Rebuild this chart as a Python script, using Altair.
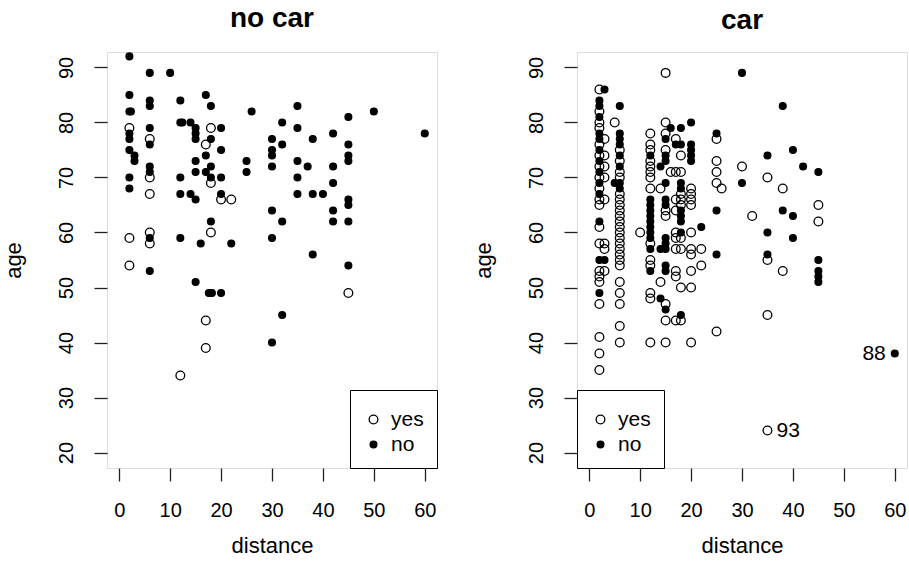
import altair as alt
import pandas as pd

FONT = "Liberation Sans"

# ---------------- panel "no car" ----------------
nocar_yes_dist = [2, 6, 6, 6, 18, 17, 18, 20, 22, 18, 2, 6, 6, 2, 45, 17, 17, 12]
nocar_yes_age = [79, 77, 70, 67, 79, 76, 69, 66, 66, 60, 59, 60, 58, 54, 49, 44, 39, 34]

nocar_no_dist = [2, 6, 10, 2, 6, 6, 12, 17, 18, 26, 2, 2.3, 2, 2, 2, 3, 3, 6, 6, 6, 6, 2, 2,
                 12, 12.4, 14, 15, 15, 15, 20, 18, 20, 17, 15, 15, 18, 17, 18, 20, 12, 12, 14,
                 15, 20, 25, 25, 30, 30, 30, 30, 30, 32, 18, 12, 35, 32, 35, 45, 50, 60, 32,
                 38, 42, 45, 45, 45, 35, 37, 42, 35, 42, 35, 38, 40, 45, 45, 42, 30, 42, 45,
                 6, 16, 22, 38, 45, 6, 15, 17.6, 18.2, 20, 32, 30]
nocar_no_age = [92, 89, 89, 85, 84, 83, 84, 85, 83, 82, 82, 82, 78, 77, 75, 74, 73, 79, 76, 72, 71, 70, 68,
                80, 80, 80, 79, 78, 77, 79, 77, 75, 74, 73, 71, 72, 71, 70, 70, 70, 67, 67,
                66, 67, 73, 71, 77, 75, 74, 72, 64, 62, 62, 59, 83, 80, 79, 81, 82, 78, 76,
                77, 78, 76, 74, 73, 73, 72, 72, 70, 69, 67, 67, 67, 66, 65, 64, 59, 62, 62,
                59, 58, 58, 56, 54, 53, 51, 49, 49, 49, 45, 40]

# ---------------- panel "car" (ages grouped by distance) ----------------
car_yes_dist = [2, 3, 5, 6, 10, 12, 14, 15, 16, 17, 18, 20, 22, 25, 26, 30, 32, 35, 38, 45]
car_yes_ages = [
    [86, 82, 80, 79, 76, 74, 72, 70, 68, 66, 65, 61, 58, 53, 52, 51, 47, 41, 38, 35],
    [77, 74, 72, 70, 66, 58, 57, 53],
    [80],
    [75, 73, 71, 70, 67, 66, 65, 64, 63, 62, 61, 60, 59, 58, 57, 56, 55, 54, 51, 49, 47, 43, 40],
    [60],
    [78, 76, 75, 73, 72, 71, 70, 68, 58, 55, 54, 49, 48, 40],
    [68, 51],
    [89, 80, 78, 75, 64, 63, 47, 44, 40],
    [71],
    [77, 71, 66, 64, 60, 59, 57, 53, 52, 44],
    [74, 71, 67, 66, 65, 59, 57, 50, 44],
    [68, 67, 66, 65, 60, 57, 56, 53, 50, 40],
    [57, 54],
    [77, 73, 71, 69, 42],
    [68],
    [72],
    [63],
    [70, 55, 45, 24],
    [68, 53],
    [65, 62],
]
car_no_dist = [2, 3, 5, 6, 12, 14, 15, 16, 17, 18, 20, 22, 25, 30, 35, 38, 40, 42, 45, 60]
car_no_ages = [
    [84, 83, 81, 78, 77, 75, 73, 71, 69, 67, 62, 55, 49],
    [86, 55],
    [69],
    [83, 78, 77, 76, 74, 72, 69, 68],
    [74, 66, 65, 64, 63, 62, 61, 60, 59, 57, 53],
    [72, 57, 48],
    [77, 74, 73, 69, 66, 65, 59, 58, 57, 54, 53, 46],
    [79],
    [76],
    [79, 76, 69, 68, 64, 63, 62, 60, 45],
    [80, 76, 75, 74, 73],
    [61],
    [78, 64, 56],
    [89, 69],
    [74, 60, 56],
    [83, 64],
    [75, 63, 59],
    [72],
    [71, 55, 53, 52, 51],
    [38],
]

# labelled points in the "car" panel
label_dist = [60, 35]
label_age = [38, 24]
label_text = ["88", "93"]
label_side = ["left", "right"]

x_ticks = [0, 10, 20, 30, 40, 50, 60]
y_ticks = [20, 30, 40, 50, 60, 70, 80, 90]


def flat_df(dy, ay, dn, an):
    rows = [{"distance": d, "age": a, "status": "yes"} for d, a in zip(dy, ay)]
    rows += [{"distance": d, "age": a, "status": "no"} for d, a in zip(dn, an)]
    return pd.DataFrame(rows)


def grouped(dists, ages):
    d_out, a_out = [], []
    for d, group in zip(dists, ages):
        for a in group:
            d_out.append(d)
            a_out.append(a)
    return d_out, a_out


df_nocar = flat_df(nocar_yes_dist, nocar_yes_age, nocar_no_dist, nocar_no_age)
cyd, cya = grouped(car_yes_dist, car_yes_ages)
cnd, cna = grouped(car_no_dist, car_no_ages)
df_car = flat_df(cyd, cya, cnd, cna)
df_lab = pd.DataFrame({"distance": label_dist, "age": label_age,
                       "text": label_text, "side": label_side})

xscale = alt.Scale(domain=[-2.4, 62.4], nice=False, zero=False)
yscale = alt.Scale(domain=[17.2, 92.8], nice=False, zero=False)

xaxis = alt.Axis(values=x_ticks, title="distance", labelFontSize=20, titleFontSize=22,
                 labelPadding=19, titlePadding=15, grid=False, domain=False,
                 tickSize=13, tickWidth=1.3, tickColor="#222", labelColor="black",
                 titleColor="black",
                 labelFont=FONT, titleFont=FONT, titleFontWeight="normal", labelFlush=False)
yaxis = alt.Axis(values=y_ticks, title="age", labelFontSize=20, titleFontSize=22,
                 labelAngle=-90, labelAlign="center", labelBaseline="bottom",
                 labelPadding=18, titlePadding=31, grid=False, domain=False,
                 tickSize=13, tickWidth=1.3, tickColor="#222", labelColor="black",
                 titleColor="black",
                 labelFont=FONT, titleFont=FONT, titleFontWeight="normal", labelFlush=False)


def panel(df, title, orient, with_labels=False):
    legend = alt.Legend(title=" ", titleFontSize=4, titlePadding=2, orient=orient, offset=0,
                        strokeColor="black",
                        fillColor="white", padding=13, labelFontSize=21, labelFont=FONT,
                        labelColor="black", labelOffset=7, rowPadding=3,
                        symbolStrokeWidth=1.3, cornerRadius=0)
    pts = alt.Chart(df).mark_point(shape="circle", filled=True,
                                   strokeWidth=1.3, opacity=1).encode(
        x=alt.X("distance:Q", scale=xscale, axis=xaxis),
        y=alt.Y("age:Q", scale=yscale, axis=yaxis),
        fill=alt.Fill("status:N",
                      scale=alt.Scale(domain=["yes", "no"], range=["rgba(0,0,0,0)", "black"]),
                      legend=legend),
        stroke=alt.Stroke("status:N",
                          scale=alt.Scale(domain=["yes", "no"], range=["black", "black"]),
                          legend=legend),
        size=alt.Size("status:N", scale=alt.Scale(domain=["yes", "no"], range=[76, 46]),
                      legend=legend),
    )
    layers = [pts]
    if with_labels:
        for side, align, dx in [("left", "right", -9), ("right", "left", 9)]:
            layers.append(
                alt.Chart(df_lab).transform_filter(alt.datum.side == side)
                .mark_text(align=align, baseline="middle", dx=dx, fontSize=21,
                           font=FONT, color="black")
                .encode(x=alt.X("distance:Q", scale=xscale),
                        y=alt.Y("age:Q", scale=yscale),
                        text="text:N")
            )
    return alt.layer(*layers).properties(
        width=330, height=416,
        title=alt.TitleParams(title, fontSize=28, fontWeight="bold", font=FONT,
                              color="black", anchor="middle", offset=17),
    )


left = panel(df_nocar, "no car", "bottom-right")
right = panel(df_car, "car", "bottom-left", with_labels=True)

chart = alt.hconcat(left, right, spacing=33).resolve_scale(
    fill="independent", size="independent", stroke="independent"
).resolve_legend(
    fill="independent", size="independent", stroke="independent"
).properties(
    padding={"left": 1, "top": 4, "right": 0, "bottom": 0},
).configure_view(
    stroke="#222", strokeWidth=1.8
).configure(background="white")

chart.save("out.html", embed_options={"renderer": "svg", "actions": False})
